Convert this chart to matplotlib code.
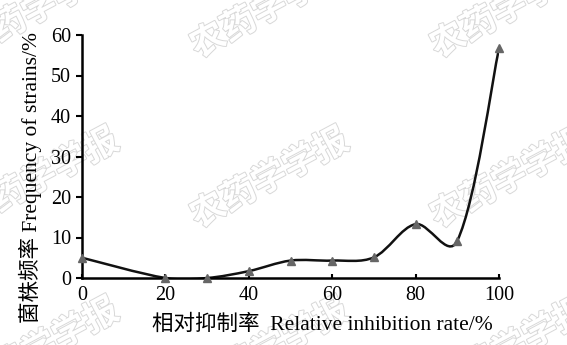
import numpy as np
import matplotlib
matplotlib.use('Agg')
import matplotlib.pyplot as plt
from matplotlib.path import Path
from matplotlib.patches import PathPatch
import matplotlib.patheffects as pe

plt.rcParams['font.family'] = ['Liberation Serif', 'Noto Sans CJK SC']

# Data
inhibition = [0, 20, 30, 40, 50, 60, 70, 80, 90, 100]
frequency = [5.0, 0.0, 0.0, 1.7, 4.3, 4.3, 5.1, 13.3, 9.2, 56.7]
xticks = [0, 20, 40, 60, 80, 100]
yticks = [0, 10, 20, 30, 40, 50, 60]

W, H = 567, 345
fig = plt.figure(figsize=(W / 100, H / 100), dpi=100)

# journal watermark in the background (pixel positions of first glyph)
wm_rows = [40, 210, 380]
wm_cols = [-20, 210, 450]
for wy in wm_rows:
    for wx in wm_cols:
        fig.text((wx - 17) / W, 1 - (wy + 9) / H, '农药学学报', fontsize=25,
                 rotation=28, rotation_mode='anchor', ha='left', va='center',
                 color='white', family='Noto Sans CJK SC', fontweight='bold',
                 path_effects=[pe.withStroke(linewidth=1.4, foreground='#d8d8d8')],
                 zorder=-1)

ax = fig.add_axes([82 / W, 1 - 278 / H, 417 / W, 243 / H])
ax.patch.set_visible(False)

# smooth (Excel-like) bezier curve through the points
pts = np.column_stack([inhibition, frequency]).astype(float)
n = len(pts)

def dist(a, b):
    return np.hypot(*(a - b))

verts = [pts[0]]
codes = [Path.MOVETO]
for i in range(n - 1):
    p0 = pts[i - 1] if i > 0 else pts[i]
    p1 = pts[i]
    p2 = pts[i + 1]
    p3 = pts[i + 2] if i + 2 < n else pts[i + 1]
    d01, d12, d23 = dist(p0, p1), dist(p1, p2), dist(p2, p3)
    f1 = 0.5 * (1 / 6 + d12 / (3 * (d01 + d12))) if d01 > 0 else 1 / 6
    f2 = 0.5 * (1 / 6 + d12 / (3 * (d12 + d23))) if d23 > 0 else 1 / 6
    c1 = p1 + (p2 - p0) * f1
    c2 = p2 - (p3 - p1) * f2
    verts += [c1, c2, p2]
    codes += [Path.CURVE4] * 3
ax.add_patch(PathPatch(Path(verts, codes), fill=False, edgecolor='#111111',
                       linewidth=1.8, zorder=2))
ax.plot(inhibition, frequency, linestyle='none', marker='^', markersize=5.5,
        color='#666666', zorder=3, clip_on=False)

ax.set_xlim(0, 100)
ax.set_ylim(0, 60)
ax.set_xticks(xticks)
ax.set_yticks(yticks)
for s in ['top', 'right']:
    ax.spines[s].set_visible(False)
for s in ['left', 'bottom']:
    ax.spines[s].set_linewidth(1.8)
ax.tick_params(axis='y', direction='out', length=4, width=1.5, labelsize=14.5, pad=4)
ax.tick_params(axis='x', direction='in', length=3, width=1.5, labelsize=14.5, pad=6)

ax.set_xlabel('相对抑制率  Relative inhibition rate/%', fontsize=15.5)
ax.set_ylabel('菌株频率 Frequency of strains/%', fontsize=15.5)
ax.xaxis.set_label_coords(0.576, -0.15)
ax.yaxis.set_label_coords(-0.095, 0.415)

fig.savefig('out.png', dpi=100)
